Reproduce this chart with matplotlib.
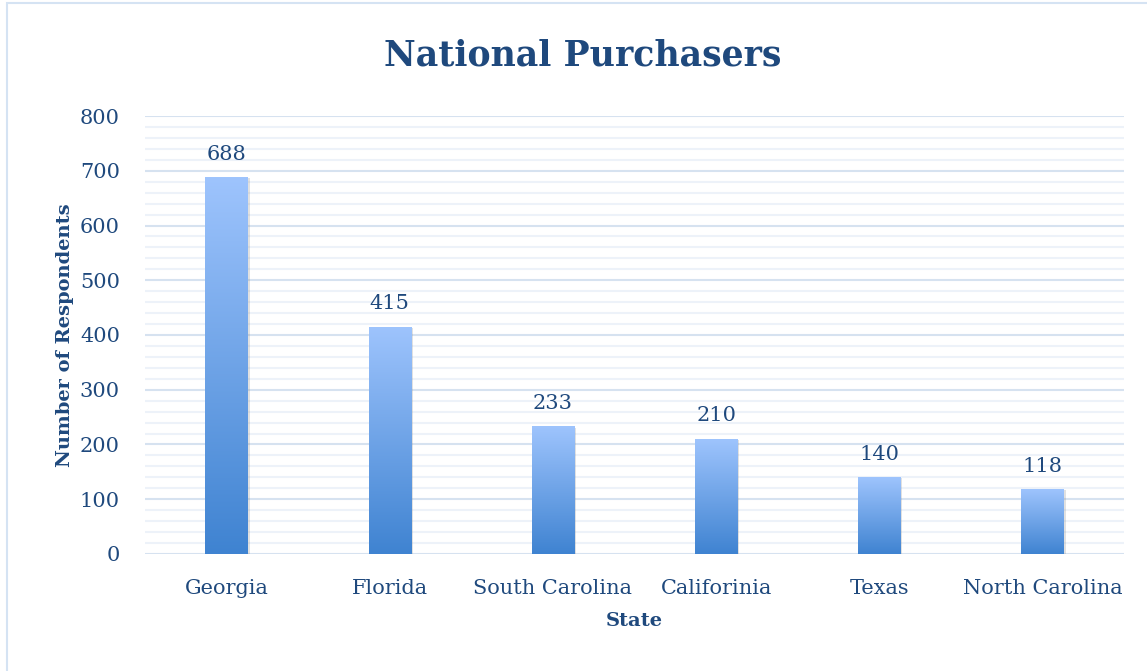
import numpy as np
import matplotlib.pyplot as plt
from matplotlib.colors import LinearSegmentedColormap
from matplotlib.patches import Rectangle

# Chart data
states = ['Georgia', 'Florida', 'South Carolina', 'Califorinia', 'Texas', 'North Carolina']
respondents = [688, 415, 233, 210, 140, 118]
y_ticks = [0, 100, 200, 300, 400, 500, 600, 700, 800]

text_color = '#1F497D'
plt.rcParams['font.family'] = ['DejaVu Serif']

fig = plt.figure(figsize=(11.47, 6.71), dpi=100)
ax = fig.add_axes([0.1264, 0.1744, 0.8536, 0.6527])

# Outer border of the chart area (right and bottom edges run off the image)
fig.patches.append(Rectangle((0.006, -0.05), 1.1, 1.045, transform=fig.transFigure,
                             fill=False, edgecolor='#D5E3F3', linewidth=1.5))

# Gradient light blue (top) -> darker blue (bottom)
cmap = LinearSegmentedColormap.from_list('bar', ['#3F83D1', '#9EC4FD'])
grad = np.linspace(0, 1, 256).reshape(-1, 1)

x = np.arange(len(states))
width = 0.26
bars = ax.bar(x, respondents, width=width, color='none', zorder=3)
for xi, bar, val in zip(x, bars, respondents):
    # soft shadow
    ax.add_patch(Rectangle((bar.get_x() + 0.012, -4), width, val + 2,
                           facecolor='#888888', alpha=0.25, edgecolor='none', zorder=2))
    im = ax.imshow(grad, cmap=cmap, aspect='auto', origin='lower',
                   extent=(bar.get_x(), bar.get_x() + width, 0, val), zorder=3)
    im.set_clip_path(bar)
    ax.text(xi, val + 25, str(val), ha='center', va='bottom', fontsize=15, color=text_color)

ax.set_xlim(-0.5, len(states) - 0.5)
ax.set_ylim(0, 800)
ax.set_yticks(y_ticks)
ax.set_yticks(np.arange(0, 801, 20), minor=True)
ax.set_xticks(x)
ax.set_xticklabels(states)
ax.tick_params(axis='both', length=0, labelsize=15, labelcolor=text_color)
ax.tick_params(axis='x', pad=18)
ax.tick_params(axis='y', pad=18)
ax.tick_params(which='minor', length=0)

ax.grid(axis='y', which='major', color='#D6E2F0', linewidth=1.5, zorder=0)
ax.grid(axis='y', which='minor', color='#EDF2F9', linewidth=1.5, zorder=0)
ax.set_axisbelow(True)
for s in ax.spines.values():
    s.set_visible(False)

fig.text(0.508, 0.918, 'National Purchasers', ha='center', va='center',
         fontsize=25, fontweight='bold', color=text_color)
ax.set_xlabel('State', fontsize=14, fontweight='bold', color=text_color, labelpad=10)
ax.set_ylabel('Number of Respondents', fontsize=14, fontweight='bold', color=text_color, labelpad=4)

fig.savefig('out.png', dpi=100)
